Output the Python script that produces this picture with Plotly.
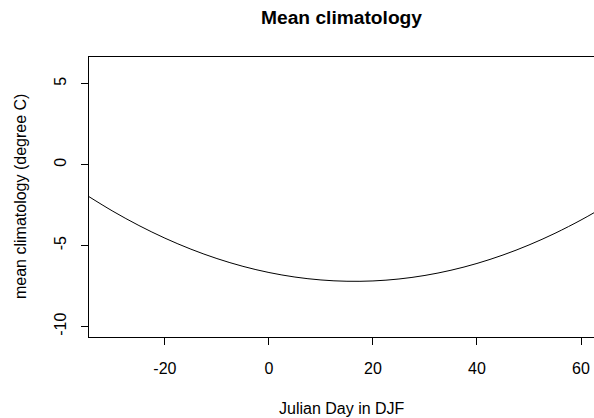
import plotly.graph_objects as go

julian_day = [-35, -30, -25, -20, -15, -10, -5, 0, 5, 10, 15, 20, 25, 30, 35, 40, 45, 50, 55, 60, 63]
mean_clim = [-1.90, -2.88, -3.76, -4.54, -5.22, -5.80, -6.28, -6.66, -6.94, -7.12, -7.20,
             -7.18, -7.06, -6.84, -6.52, -6.10, -5.58, -4.96, -4.24, -3.42, -2.88]
x_ticks = [-20, 0, 20, 40, 60]
x_labels = ["-20", "0", "20", "40", "60"]
y_ticks = [-10, -5, 0, 5]
y_labels = ["-10", "-5", "0", "5"]

FONT = "Liberation Sans, Arial, sans-serif"
FS = 16

fig = go.Figure()
fig.add_trace(go.Scatter(x=julian_day, y=mean_clim, mode="lines",
                         line=dict(color="black", width=1, shape="spline"),
                         showlegend=False, hoverinfo="skip"))

fig.update_layout(
    width=594, height=418,
    margin=dict(l=89, r=0, t=57, b=81),
    paper_bgcolor="white", plot_bgcolor="white",
    font=dict(family=FONT, size=FS, color="black"),
    title=dict(text="<b>Mean climatology</b>", x=0.5, xref="paper", xanchor="center",
               y=1 - 17 / 418, yref="container", yanchor="middle",
               font=dict(family=FONT, size=19.2, color="black")),
    xaxis=dict(range=[-34.6, 62.5], tickvals=x_ticks, ticktext=x_labels, ticks="outside",
               ticklen=7, tickcolor="black", tickwidth=1, showline=True, linecolor="black",
               linewidth=1, mirror=True, showgrid=False, zeroline=False,
               ticklabelstandoff=10, tickfont=dict(size=FS)),
    yaxis=dict(range=[-10.64, 6.64], tickvals=y_ticks, ticktext=y_labels, ticks="outside",
               ticklen=7, tickcolor="black", tickwidth=1, showline=True, linecolor="black",
               linewidth=1, showgrid=False, zeroline=False, tickangle=-90,
               ticklabelstandoff=9, tickfont=dict(size=FS)),
    annotations=[
        dict(text="Julian Day in DJF", xref="paper", yref="paper", x=0.5, y=(337 - 408) / 280,
             xanchor="center", yanchor="middle", showarrow=False, font=dict(size=FS)),
        dict(text="mean climatology (degree C)", xref="paper", yref="paper",
             x=(20 - 89) / 505, y=0.5, textangle=-90, xanchor="center", yanchor="middle",
             showarrow=False, font=dict(size=FS)),
    ],
)

fig.write_html("out.html", config={"displayModeBar": False},
               post_script="document.body.style.margin='0';document.body.style.overflow='hidden';")
